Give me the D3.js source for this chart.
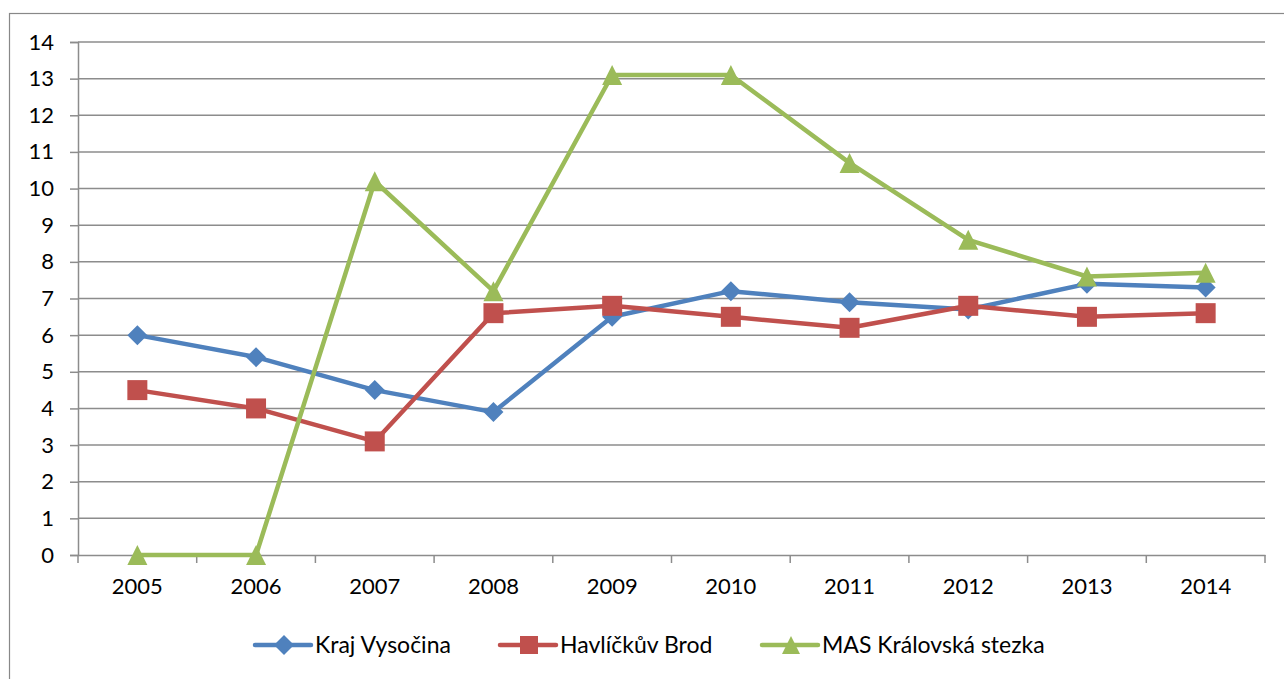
<!DOCTYPE html>
<meta charset="utf-8">
<head>
	<script type="text/javascript" src="https://cdn.jsdelivr.net/npm/d3@7/dist/d3.min.js"></script>
	<style>
		body { margin: 0; background: #fff; }
		text { font-family: Lato, "Open Sans", sans-serif; fill: #000; }
	</style>
</head>
<body>
	<div id="chart"></div>
	<script>
		// data
		const years = ["2005", "2006", "2007", "2008", "2009", "2010", "2011", "2012", "2013", "2014"];
		const kraj = [6.0, 5.4, 4.5, 3.9, 6.5, 7.2, 6.9, 6.7, 7.4, 7.3];
		const brod = [4.5, 4.0, 3.1, 6.6, 6.8, 6.5, 6.2, 6.8, 6.5, 6.6];
		const mas = [0, 0, 10.2, 7.2, 13.1, 13.1, 10.7, 8.6, 7.6, 7.7];
		const yTicks = d3.range(0, 15);

		// excel-like markers, size = half width
		const diamond = {draw(c, r) { c.moveTo(0, -r); c.lineTo(r, 0); c.lineTo(0, r); c.lineTo(-r, 0); c.closePath(); }};
		const square = {draw(c, r) { c.rect(-r, -r, 2 * r, 2 * r); }};
		const triangle = {draw(c, r) { c.moveTo(0, -r); c.lineTo(r, r); c.lineTo(-r, r); c.closePath(); }};

		const series = [
			{name: "Kraj Vysočina", values: kraj, color: "#4F81BD", symbol: diamond},
			{name: "Havlíčkův Brod", values: brod, color: "#C0504D", symbol: square},
			{name: "MAS Královská stezka", values: mas, color: "#9BBB59", symbol: triangle}
		];

		const width = 1284, height = 679;
		const plot = {left: 78, right: 1265, top: 42, bottom: 555};

		const svg = d3.select("#chart").append("svg")
			.attr("width", width)
			.attr("height", height);

		// outer frame
		svg.append("rect")
			.attr("x", 9.5).attr("y", 13.5)
			.attr("width", 1290).attr("height", 700)
			.attr("fill", "none").attr("stroke", "#888").attr("stroke-width", 1.2);

		const x = d3.scaleBand().domain(years).range([plot.left, plot.right]);
		const y = d3.scaleLinear().domain([0, 14]).range([plot.bottom, plot.top]);

		// gridlines
		svg.append("g").selectAll("line")
			.data(yTicks.filter(d => d > 0))
			.join("line")
			.attr("x1", plot.left).attr("x2", plot.right)
			.attr("y1", d => y(d)).attr("y2", d => y(d))
			.attr("stroke", "#8c8c8c").attr("stroke-width", 1.5);

		// y axis
		const yAxis = svg.append("g")
			.attr("transform", `translate(${plot.left},0)`)
			.call(d3.axisLeft(y).tickValues(yTicks).tickSize(8).tickPadding(16).tickFormat(d3.format("d")));
		yAxis.select(".domain").attr("stroke", "#8c8c8c").attr("stroke-width", 1.5);
		yAxis.selectAll(".tick line").attr("stroke", "#8c8c8c").attr("stroke-width", 1.5);
		yAxis.selectAll(".tick text").style("font-size", "22px");

		// x axis
		const xAxis = svg.append("g")
			.attr("transform", `translate(0,${plot.bottom})`)
			.call(d3.axisBottom(x).tickSize(0).tickPadding(23));
		xAxis.select(".domain").attr("stroke", "#8c8c8c").attr("stroke-width", 1.5);
		xAxis.selectAll(".tick text").style("font-size", "22px");
		svg.append("g").selectAll("line")
			.data(years.map(d => x(d)).concat([plot.right]))
			.join("line")
			.attr("x1", d => d).attr("x2", d => d)
			.attr("y1", plot.bottom).attr("y2", plot.bottom + 8)
			.attr("stroke", "#8c8c8c").attr("stroke-width", 1.5);

		const cx = d => x(d) + x.bandwidth() / 2;

		const line = d3.line()
			.x((d, i) => cx(years[i]))
			.y(d => y(d));

		series.forEach(s => {
			svg.append("path")
				.datum(s.values)
				.attr("d", line)
				.attr("fill", "none")
				.attr("stroke", s.color)
				.attr("stroke-width", 4.5)
				.attr("stroke-linejoin", "round");
			svg.append("g").selectAll("path")
				.data(s.values)
				.join("path")
				.attr("d", d3.symbol().type(s.symbol).size(10))
				.attr("transform", (d, i) => `translate(${cx(years[i])},${y(d)})`)
				.attr("fill", s.color);
		});

		// legend
		const legendX = [255, 500, 762];
		const legendY = 645;
		const legend = svg.append("g").selectAll("g")
			.data(series)
			.join("g")
			.attr("transform", (d, i) => `translate(${legendX[i]},${legendY})`);
		legend.append("line")
			.attr("x1", 0).attr("x2", 56)
			.attr("stroke", d => d.color).attr("stroke-width", 4.5)
			.attr("stroke-linecap", "round");
		legend.append("path")
			.attr("d", d => d3.symbol().type(d.symbol).size(d.symbol === diamond ? 10 : 9)())
			.attr("transform", "translate(29,0)")
			.attr("fill", d => d.color);
		legend.append("text")
			.attr("x", 60).attr("y", 0)
			.attr("dy", "0.35em")
			.style("font-size", "23px")
			.text(d => d.name);
	</script>
</body>
